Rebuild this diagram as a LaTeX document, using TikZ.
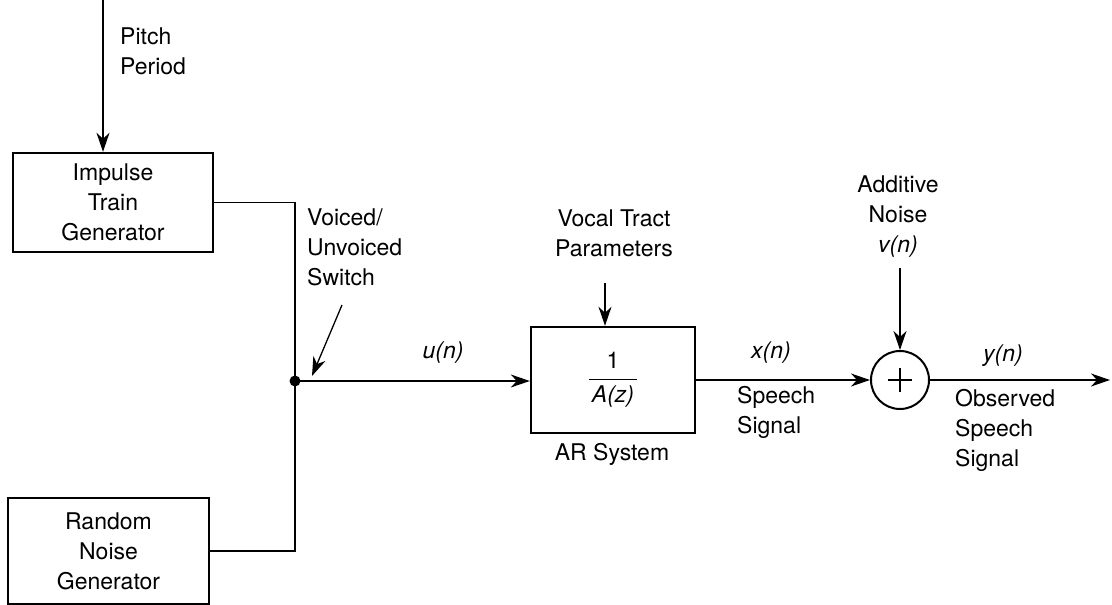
\documentclass[tikz,border=0pt]{standalone}
\usepackage{fontspec}
\usepackage{amsmath}
\setmainfont{TeX Gyre Heros}
\usetikzlibrary{arrows.meta}
\begin{document}
\begin{tikzpicture}[x=1pt,y=-1pt,
  font=\fontsize{23}{30}\selectfont,
  box/.style={draw, line width=2.4pt, inner sep=0pt, align=center},
  lbl/.style={inner sep=0pt, align=center},
  conn/.style={line width=1.3pt},
  arr/.style={conn, -{Stealth[length=19pt,width=13pt,inset=6pt]}},
  dotnode/.style={circle, fill=black, inner sep=0pt, minimum size=11pt},
  sumnode/.style={circle, draw, line width=2pt, minimum size=58pt, inner sep=0pt,
    path picture={
      \draw[line width=2.8pt] ([xshift=-12pt]path picture bounding box.center) -- ([xshift=12pt]path picture bounding box.center);
      \draw[line width=2.8pt] ([yshift=-12pt]path picture bounding box.center) -- ([yshift=12pt]path picture bounding box.center);
    }}
]
\useasboundingbox (0,0) rectangle (1112,605);

% blocks
\node[box, minimum width=200pt, minimum height=99pt] (imp) at (113,202.5) {Impulse\\Train\\Generator};
\node[box, minimum width=201pt, minimum height=106pt] (rnd) at (108.5,551) {Random\\Noise\\Generator};
\node[box, minimum width=164pt, minimum height=106pt] (ar) at (613,380) {$\dfrac{\text{1}}{\hspace{3pt}\text{\itshape A(z)}\hspace{3pt}}$};
\node[sumnode] (sum) at (900,380) {};
\node[dotnode] (sw) at (295,381) {};

% labels
\node[lbl, anchor=west, align=left] (pitch) at (120,51) {Pitch\\Period};
\node[lbl, anchor=west, align=left] (swlbl) at (307,247) {Voiced/\\Unvoiced\\Switch};
\node[lbl] (un) at (443,353) {\itshape u(n)};
\node[lbl] (vt) at (614,233.5) {Vocal Tract\\Parameters};
\node[lbl] (arlbl) at (612,454) {AR System};
\node[lbl] (xn) at (771,353) {\itshape x(n)};
\node[lbl, anchor=west, align=left] (sp) at (737,412) {Speech\\Signal};
\node[lbl] (add) at (898,217) {Additive\\Noise\\\itshape v(n)};
\node[lbl] (yn) at (1003,356) {\itshape y(n)};
\node[lbl, anchor=west, align=left] (obs) at (955,430) {Observed\\Speech\\Signal};

% connectors
\coordinate (ptop) at (103,0);
\draw[arr] (ptop) -- (ptop |- imp.north);
\draw[conn] (imp.east) -| (sw.center);
\draw[conn] (rnd.east) -| (sw.center);
\draw[arr] (sw.center) -- (sw.center -| ar.west);
\coordinate (swa) at (342,305);
\coordinate (swb) at (312,376);
\draw[arr] (swa) -- (swb);
\coordinate (vta) at (605,283);
\draw[arr] (vta) -- (vta |- ar.north);
\draw[arr] (ar.east) -- (sum.west);
\coordinate (vtop) at (900,268);
\draw[arr] (vtop) -- (sum.north);
\coordinate (out) at (1110,380);
\draw[arr] (sum.east) -- (out);
\end{tikzpicture}
\end{document}
